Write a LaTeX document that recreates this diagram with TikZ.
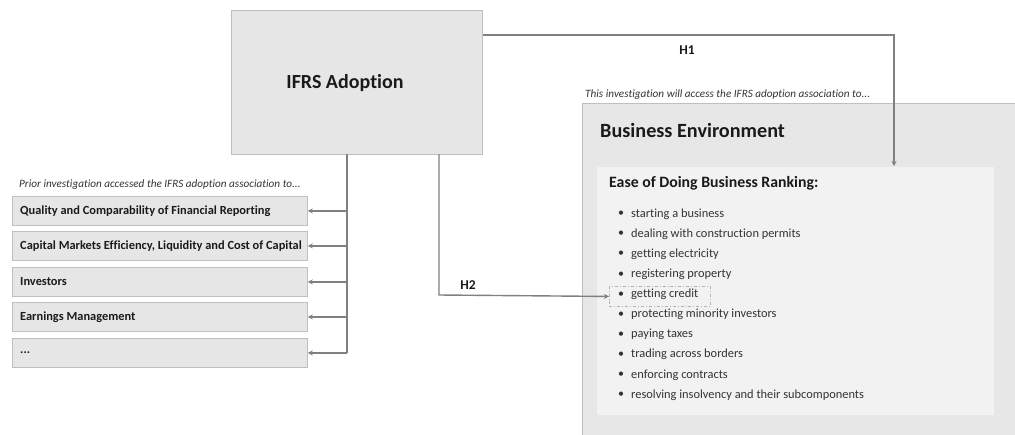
\documentclass[tikz,border=0pt]{standalone}
\usepackage{fontspec}
\setmainfont{Carlito}[Ligatures=NoCommon]
\usetikzlibrary{arrows.meta}
\definecolor{boxfill}{HTML}{E6E6E6}
\definecolor{boxline}{HTML}{BFBFBF}
\definecolor{outerfill}{HTML}{E7E7E7}
\definecolor{innerfill}{HTML}{F2F2F2}
\definecolor{conn}{HTML}{808080}
\definecolor{txt}{HTML}{1A1A1A}
\definecolor{itemtxt}{HTML}{333333}
\tikzset{
  priorbox/.style={draw=boxline, line width=0.8pt, fill=boxfill, minimum width=295pt, minimum height=29pt, inner sep=0pt, anchor=north west},
  priortext/.style={font=\bfseries\fontsize{12.4}{14}\selectfont, text=txt, anchor=west, inner sep=0pt},
  conline/.style={draw=conn, line width=1.4pt},
  conarrow/.style={conline, -{Stealth[length=5pt,width=5pt]}},
  itemtext/.style={font=\fontsize{12.4}{14}\selectfont, text=itemtxt, anchor=west, inner sep=0pt},
  bul/.style={font=\fontsize{12}{14}\selectfont, text=itemtxt, inner sep=0pt},
  notetext/.style={font=\itshape\fontsize{11.2}{13}\selectfont, text=itemtxt, anchor=west, inner sep=0pt},
  hlabel/.style={font=\bfseries\fontsize{13.5}{16}\selectfont, text=txt, inner sep=0pt}
}
\begin{document}
\begin{tikzpicture}[x=1pt,y=-1pt]
\useasboundingbox (0,0) rectangle (1015,434);
% Business environment outer box (clipped by picture edge)
\begin{scope}
\clip (0,0) rectangle (1015,434);
\node[draw=boxline, line width=0.8pt, fill=outerfill, minimum width=440pt, minimum height=340pt, anchor=north west, inner sep=0pt] (be) at (582,103) {};
\end{scope}
\node[draw=none, fill=innerfill, minimum width=397pt, minimum height=248pt, anchor=north west, inner sep=0pt] (inner) at (597,167) {};
\node[font=\bfseries\fontsize{20.2}{24}\selectfont, text=txt, anchor=west, inner sep=0pt] (betitle) at (600,130) {Business Environment};
\node[font=\bfseries\fontsize{15.8}{18}\selectfont, text=txt, anchor=west, inner sep=0pt] (ease) at (609,183) {Ease of Doing Business Ranking:};
\node[notetext] (thisnote) at (585,95) {This investigation will access the IFRS adoption association to...};

% bullet list
\foreach \i/\t in {1/starting a business, 2/dealing with construction permits, 3/getting electricity, 4/registering property, 5/getting credit, 6/protecting minority investors, 7/paying taxes, 8/trading across borders, 9/enforcing contracts, 10/resolving insolvency and their subcomponents}{
  \node[bul] (b\i) at (621,{214+20.1*(\i-1)}) {\textbullet};
  \node[itemtext] (it\i) at (631,{214+20.1*(\i-1)}) {\t};
}
\node[draw=boxline!80!gray, line width=0.9pt, dash dot, minimum width=101pt, minimum height=20pt, anchor=north west, inner sep=0pt] (credit) at (609,286) {};

% IFRS box
\node[draw=boxline, line width=0.8pt, fill=boxfill, minimum width=251pt, minimum height=144pt, anchor=north west, inner sep=0pt] (ifrs) at (231,10) {};
\node[font=\bfseries\fontsize{20}{24}\selectfont, text=txt, inner sep=0pt] (ifrstext) at (345,83) {IFRS Adoption};

% prior boxes
\node[notetext] (priornote) at (19,185) {Prior investigation accessed the IFRS adoption association to...};
\node[priorbox] (p1) at (12,196) {};
\node[priorbox] (p2) at (12,231) {};
\node[priorbox] (p3) at (12,267) {};
\node[priorbox] (p4) at (12,302) {};
\node[priorbox] (p5) at (12,338) {};
\node[priortext] at ([xshift=8pt]p1.west) {Quality and Comparability of Financial Reporting};
\node[priortext] at ([xshift=8pt]p2.west) {Capital Markets Efficiency, Liquidity and Cost of Capital};
\node[priortext] at ([xshift=8pt]p3.west) {Investors};
\node[priortext] at ([xshift=8pt]p4.west) {Earnings Management};
\node[priortext] at ([xshift=8pt]p5.west) {...};

% connectors to prior boxes
\coordinate (trunk) at (347,154);
\draw[conline] (trunk) -- (347,353);
\foreach \k in {1,...,5}{
  \draw[conarrow] (347,0 |- p\k.east) -- (p\k.east);
}

% H1
\coordinate (h1a) at (894,35);
\draw[conarrow] (ifrs.east |- h1a) -- (h1a) -- (894,166);
\node[hlabel] (h1) at (687,50) {H1};

% H2
\coordinate (h2a) at (439,295);
\draw[conarrow] (439,154) -- (h2a) -- (credit.west);
\node[hlabel] (h2) at (468,285) {H2};
\end{tikzpicture}
\end{document}
